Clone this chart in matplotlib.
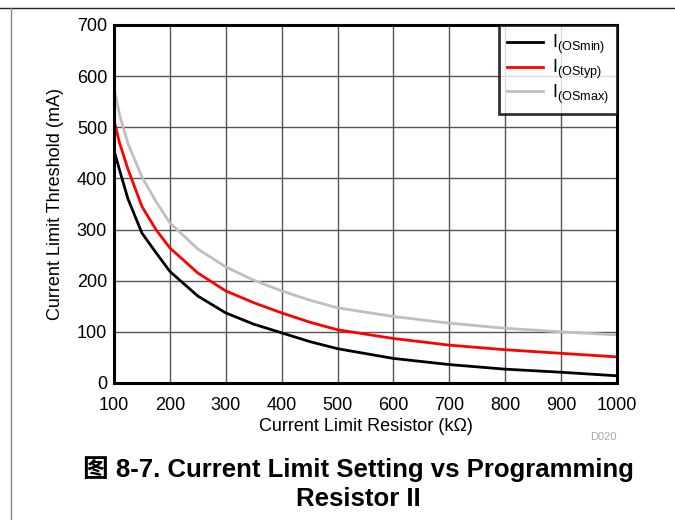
import matplotlib
matplotlib.use("Agg")
import matplotlib.pyplot as plt
from matplotlib.lines import Line2D

plt.rcParams['font.family'] = ['Liberation Sans', 'Noto Sans CJK SC', 'DejaVu Sans']
plt.rcParams['mathtext.fontset'] = 'custom'
plt.rcParams['mathtext.rm'] = 'Liberation Sans'
plt.rcParams['mathtext.it'] = 'Liberation Sans'

# values
resistor = [100, 110, 125, 150, 175, 200, 250, 300, 350, 400, 450, 500,
            600, 700, 800, 900, 1000]
i_min = [455, 416, 360, 293, 255, 218, 170, 137, 115, 98, 81, 67,
         48, 36, 27, 21, 14]
i_typ = [514, 469, 418, 345, 300, 264, 215, 180, 157, 137, 119, 104,
         87, 74, 65, 58, 51]
i_max = [577, 524, 468, 403, 355, 313, 262, 227, 201, 180, 162, 147,
         130, 117, 107, 100, 94]
xticks = [100, 200, 300, 400, 500, 600, 700, 800, 900, 1000]
yticks = [0, 100, 200, 300, 400, 500, 600, 700]

fig = plt.figure(figsize=(6.75, 5.2), dpi=100)
ax = fig.add_axes([0.1689, 0.2635, 0.7451, 0.6885])

ax.plot(resistor, i_min, color='black', lw=2, label='I$_{(OSmin)}$')
ax.plot(resistor, i_typ, color='#ff0000', lw=2, label='I$_{(OStyp)}$')
ax.plot(resistor, i_max, color='#bfbfbf', lw=2, label='I$_{(OSmax)}$')

ax.set_xlim(100, 1000)
ax.set_ylim(0, 700)
ax.set_xticks(xticks)
ax.set_yticks(yticks)
ax.tick_params(length=0, labelsize=13)
ax.tick_params(axis='x', pad=10)
ax.tick_params(axis='y', pad=5)
ax.grid(True, color='#555555', lw=1)
ax.set_axisbelow(True)
for s in ax.spines.values():
    s.set_linewidth(2.2)
ax.set_xlabel('Current Limit Resistor (kΩ)', fontsize=13, labelpad=3)
ax.set_ylabel('Current Limit Threshold (mA)', fontsize=13, labelpad=9)

leg = ax.legend(loc='upper right', fontsize=13, frameon=True, fancybox=False,
                borderaxespad=0, handlelength=2.0, labelspacing=0.08,
                borderpad=0.45, handletextpad=0.5)
leg.get_frame().set_edgecolor('black')
leg.get_frame().set_linewidth(2)

fig.text(617 / 675, 1 - 437 / 520, 'D020', color='#aaaaaa', fontsize=8,
         ha='right', va='center')
fig.text(358 / 675, 1 - 469 / 520, '图 8-7. Current Limit Setting vs Programming',
         fontsize=18.5, fontweight='bold', ha='center', va='center')
fig.text(358 / 675, 1 - 499 / 520, 'Resistor II',
         fontsize=18.5, fontweight='bold', ha='center', va='center')

# page border lines
fig.add_artist(Line2D([0, 1], [1 - 8 / 520, 1 - 8 / 520], color='#222222', lw=1))
fig.add_artist(Line2D([11 / 675, 11 / 675], [0, 1 - 8 / 520], color='#888888', lw=1))

fig.savefig('out.png', dpi=100)
